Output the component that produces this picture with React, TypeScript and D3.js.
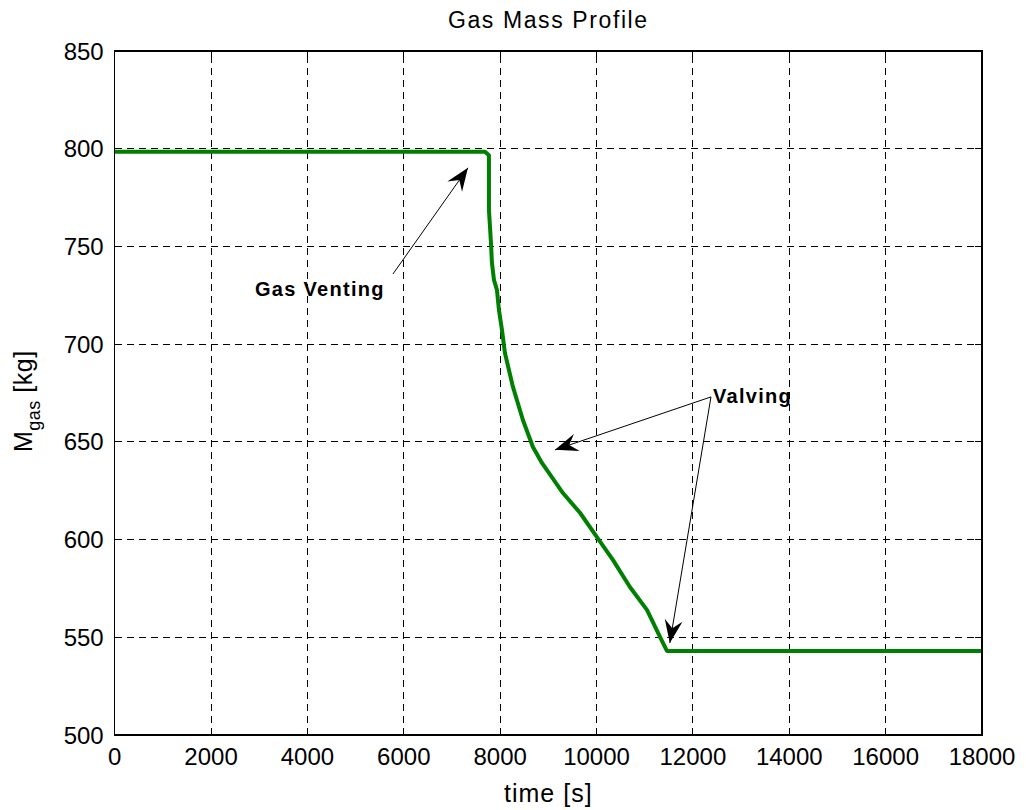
import React from 'react'
import * as d3 from 'd3'

// gas mass profile
const timeS = [0, 7684, 7767, 7767, 7808, 7829, 7871, 7933, 7974, 8037, 8099, 8265, 8472, 8680, 8867, 9303, 9660, 10008, 10340, 10693, 11046, 11378, 11461, 18000]
const massKg = [798.4, 798.4, 796.6, 768.7, 752.3, 741.6, 732.9, 727.8, 717.6, 707.3, 695.5, 678.1, 661.2, 647.4, 639.2, 623.8, 613.6, 601.3, 589.6, 575.7, 564.0, 547.1, 543.0, 543.0]

const xTicks = [0, 2000, 4000, 6000, 8000, 10000, 12000, 14000, 16000, 18000]
const yTicks = [500, 550, 600, 650, 700, 750, 800, 850]

// annotations in data units: [time, mass]
const ventingLabel = { text: 'Gas Venting', at: [2910, 724.6] }
const ventingArrows = [{ from: [5775, 735.9], to: [7332, 790.2] }]
const valvingLabel = { text: 'Valving', at: [12416, 669.9] }
const valvingArrows = [
  { from: [12375, 673], to: [9138, 645.9] },
  { from: [12375, 673], to: [11521, 547.1] }
]

const W = 1026
const H = 810
const margin = { left: 114.7, right: 44, top: 51, bottom: 75 }
const font = '"Liberation Sans", Arial, Helvetica, sans-serif'

const arrowHead = (x1: number, y1: number, x2: number, y2: number) => {
  const a = Math.atan2(y2 - y1, x2 - x1)
  const len = 23, half = 9, notch = 15
  const ux = Math.cos(a), uy = Math.sin(a)
  const px = -uy, py = ux
  const bx = x2 - ux * len, by = y2 - uy * len
  const nx = x2 - ux * notch, ny = y2 - uy * notch
  return `M${x2},${y2}L${bx + px * half},${by + py * half}L${nx},${ny}L${bx - px * half},${by - py * half}Z`
}

export default function App() {
  const x = d3.scaleLinear().domain([0, 18000]).range([margin.left, W - margin.right])
  const y = d3.scaleLinear().domain([500, 850]).range([H - margin.bottom, margin.top])
  const [x0, x1] = x.range()
  const [y0, y1] = y.range()

  const pts = timeS.map((t, i) => [t, massKg[i]] as [number, number])
  const line = d3.line<[number, number]>().x(d => x(d[0])).y(d => y(d[1]))

  const arrows = [...ventingArrows, ...valvingArrows]

  return (
    <svg width={W} height={H} style={{ position: 'absolute', left: 0, top: 0, background: '#fff' }}>
      <rect x={0} y={0} width={W} height={H} fill="#fff" />
      {/* grid */}
      <g stroke="#000" strokeWidth={1} strokeDasharray="7,5" shapeRendering="crispEdges">
        {xTicks.slice(1, -1).map(t => (
          <line key={'gx' + t} x1={x(t)} x2={x(t)} y1={y0} y2={y1} />
        ))}
        {yTicks.slice(1, -1).map(t => (
          <line key={'gy' + t} x1={x0} x2={x1} y1={y(t)} y2={y(t)} />
        ))}
      </g>
      {/* inward ticks */}
      <g stroke="#000" strokeWidth={1} shapeRendering="crispEdges">
        {xTicks.map(t => (
          <g key={'tx' + t}>
            <line x1={x(t)} x2={x(t)} y1={y0} y2={y0 - 7} />
            <line x1={x(t)} x2={x(t)} y1={y1} y2={y1 + 7} />
          </g>
        ))}
        {yTicks.map(t => (
          <g key={'ty' + t}>
            <line x1={x0} x2={x0 + 7} y1={y(t)} y2={y(t)} />
            <line x1={x1} x2={x1 - 7} y1={y(t)} y2={y(t)} />
          </g>
        ))}
      </g>
      {/* data */}
      <path d={line(pts) || ''} fill="none" stroke="#008000" strokeWidth={4} strokeLinejoin="round" />
      {/* box */}
      <rect x={x0} y={y1} width={x1 - x0} height={y0 - y1} fill="none" stroke="#000" strokeWidth={1.5} shapeRendering="crispEdges" />
      {/* tick labels */}
      <g fontFamily={font} fontSize={24} fill="#000">
        {xTicks.map(t => (
          <text key={'lx' + t} x={x(t)} y={y0 + 30} textAnchor="middle">{t}</text>
        ))}
        {yTicks.map(t => (
          <text key={'ly' + t} x={x0 - 11} y={y(t) + 8.5} textAnchor="end">{t}</text>
        ))}
      </g>
      {/* titles */}
      <text x={(x0 + x1) / 2} y={28} textAnchor="middle" fontFamily={font} fontSize={23} letterSpacing={1.6}>Gas Mass Profile</text>
      <text x={(x0 + x1) / 2} y={802} textAnchor="middle" fontFamily={font} fontSize={25} letterSpacing={1}>time [s]</text>
      <text transform="translate(32,452) rotate(-90)" fontFamily={font} fontSize={25} letterSpacing={0.5}>
        M<tspan fontSize={18} dy={8}>gas</tspan><tspan dy={-8}> [kg]</tspan>
      </text>
      {/* annotations */}
      <g stroke="#000" strokeWidth={1}>
        {arrows.map((a, i) => {
          const ax = x(a.from[0]), ay = y(a.from[1]), bx = x(a.to[0]), by = y(a.to[1])
          return (
            <g key={'ar' + i}>
              <line x1={ax} y1={ay} x2={bx} y2={by} />
              <path d={arrowHead(ax, ay, bx, by)} fill="#000" stroke="none" />
            </g>
          )
        })}
      </g>
      <g fontFamily={font} fontSize={20} fontWeight="bold" letterSpacing={1.3}>
        <text x={x(ventingLabel.at[0])} y={y(ventingLabel.at[1])}>{ventingLabel.text}</text>
        <text x={x(valvingLabel.at[0])} y={y(valvingLabel.at[1])}>{valvingLabel.text}</text>
      </g>
    </svg>
  )
}
